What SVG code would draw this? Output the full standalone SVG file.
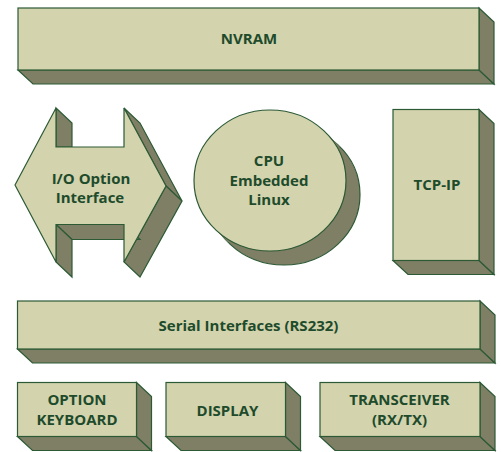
<svg xmlns="http://www.w3.org/2000/svg" width="501" height="452" viewBox="0 0 501 452">
  <style>
    .front { fill: #d3d3ae; stroke: #2c5a35; stroke-width: 1.2; stroke-linejoin: miter; }
    .side { fill: #7f7f66; stroke: #2c5a35; stroke-width: 1.2; stroke-linejoin: miter; }
    .label { font-family: "Open Sans", "Liberation Sans", sans-serif; font-weight: 700; font-size: 15px; fill: #1e4b2b; text-anchor: middle; }
  </style>
  <rect width="501" height="452" fill="#ffffff"/>

  <!-- NVRAM slab -->
  <g id="nvram">
    <polygon class="side" points="18,70 479,70 494,84 33,84"/>
    <polygon class="side" points="479,8 494,22 494,84 479,70"/>
    <rect class="front" x="18" y="8" width="461" height="62"/>
    <text class="label" x="249" y="43.5">NVRAM</text>
  </g>

  <!-- I/O option interface: double-headed block arrow -->
  <g id="io-option">
    <polygon class="side" points="56,108 72,123 72,147 56,147"/>
    <polygon class="side" points="124,108 166,186 182,201 140,123"/>
    <polygon class="side" points="166,186 124,262 140,277 182,201"/>
    <polygon class="side" points="56,224.5 124,224.5 140,239.5 72,239.5"/>
    <polygon class="side" points="56,224.5 72,239.5 72,277 56,262"/>
    <polygon class="front" points="15,185 56,108 56,147 124,147 124,108 166,186 124,262 124,224.5 56,224.5 56,262"/>
    <text class="label" x="91" y="184">I/O Option</text>
    <text class="label" x="90" y="202.7">Interface</text>
  </g>

  <!-- CPU disc -->
  <g id="cpu">
    <ellipse class="side" cx="284" cy="194.5" rx="76" ry="70.5"/>
    <polygon fill="#7f7f66" points="325.7,132.6 339.7,146.6 228.3,242.4 214.3,228.4"/>
    <ellipse class="front" cx="270" cy="180.5" rx="76" ry="70.5"/>
    <text class="label" x="269" y="165.7">CPU</text>
    <text class="label" x="269" y="185.6">Embedded</text>
    <text class="label" x="269" y="205.3">Linux</text>
  </g>

  <!-- TCP-IP column -->
  <g id="tcp-ip">
    <polygon class="side" points="393,260.5 479,260.5 494,274.5 408,274.5"/>
    <polygon class="side" points="479,109.5 494,123.5 494,274.5 479,260.5"/>
    <rect class="front" x="393" y="109.5" width="86" height="151"/>
    <text class="label" x="437" y="190">TCP-IP</text>
  </g>

  <!-- Serial interfaces slab -->
  <g id="serial">
    <polygon class="side" points="17.5,349 480,349 495,363 32.5,363"/>
    <polygon class="side" points="480,301 495,315 495,363 480,349"/>
    <rect class="front" x="17.5" y="301" width="462.5" height="48"/>
    <text class="label" x="248.5" y="330.7">Serial Interfaces (RS232)</text>
  </g>

  <!-- Peripheral blocks -->
  <g id="option-keyboard">
    <polygon class="side" points="17.5,436.5 136.5,436.5 151.5,450.5 32.5,450.5"/>
    <polygon class="side" points="136.5,382.5 151.5,396.5 151.5,450.5 136.5,436.5"/>
    <rect class="front" x="17.5" y="382.5" width="119" height="54"/>
    <text class="label" x="77" y="405">OPTION</text>
    <text class="label" x="77" y="425">KEYBOARD</text>
  </g>

  <g id="display">
    <polygon class="side" points="166,436.5 285.5,436.5 300.5,450.5 181,450.5"/>
    <polygon class="side" points="285.5,382.5 300.5,396.5 300.5,450.5 285.5,436.5"/>
    <rect class="front" x="166" y="382.5" width="119.5" height="54"/>
    <text class="label" x="227.5" y="415.5">DISPLAY</text>
  </g>

  <g id="transceiver">
    <polygon class="side" points="320,436.5 480,436.5 495,450.5 335,450.5"/>
    <polygon class="side" points="480,382.5 495,396.5 495,450.5 480,436.5"/>
    <rect class="front" x="320" y="382.5" width="160" height="54"/>
    <text class="label" x="399.5" y="405">TRANSCEIVER</text>
    <text class="label" x="399.5" y="425">(RX/TX)</text>
  </g>

  <g id="connectors"/>
</svg>
